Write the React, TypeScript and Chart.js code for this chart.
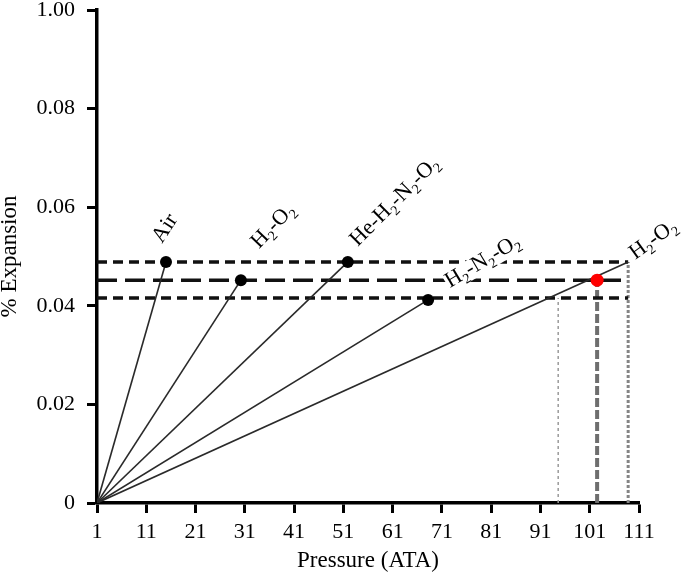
import React, { useEffect, useRef } from "react";
import { Chart, registerables } from "chart.js";
Chart.register(...registerables);

// ---- data ----
const xTickValues = [1, 11, 21, 31, 41, 51, 61, 71, 81, 91, 101, 111];
const yTickValues = [0, 0.02, 0.04, 0.06, 0.08, 0.1];
const yTickLabels = ["0", "0.02", "0.04", "0.06", "0.08", "1.00"];

const originPressure = 1;
const originExpansion = 0;

const gasLabels = ["Air", "H_2-O_2", "He-H_2-N_2-O_2", "H_2-N_2-O_2", "H_2-O_2"];
const gasPressure = [15, 30.2, 51.9, 68.2, 108.8];
const gasExpansion = [0.0489, 0.0452, 0.0489, 0.0412, 0.0489];
const gasMarker = [true, true, true, true, false];

const refLevels = [0.0489, 0.0452, 0.0416];
const refLevelEnd = 108.8;
const refPressures = [94.6, 102.5, 108.8];
const refPressureTops = [0.0416, 0.0452, 0.0489];

const highlightPressure = [102.5];
const highlightExpansion = [0.0452];

// ---- styles ----
const FONT = "'Liberation Serif', 'Times New Roman', serif";
const MAIN = 22;
const SUB = 14;
const levelDashes = [[10, 6], [20, 8], [10, 6]];
const vStyles = [
  { color: "#9a9a9a", width: 1.5, dash: [3, 3] },
  { color: "#6e6e6e", width: 4, dash: [9, 3] },
  { color: "#858585", width: 3, dash: [3, 2] },
];
const labelStyle = [
  { dx: -4, dy: -18, angle: -57 },
  { dx: 18, dy: -31, angle: -46 },
  { dx: 10, dy: -15, angle: -45 },
  { dx: 22, dy: -12, angle: -31 },
  { dx: 7, dy: -2, angle: -36 },
];

function parseRich(text: string) {
  const segs: { t: string; sub: boolean }[] = [];
  let cur = "";
  for (let i = 0; i < text.length; i++) {
    if (text[i] === "_" && i + 1 < text.length) {
      if (cur) segs.push({ t: cur, sub: false });
      cur = "";
      segs.push({ t: text[i + 1], sub: true });
      i++;
    } else cur += text[i];
  }
  if (cur) segs.push({ t: cur, sub: false });
  return segs;
}

const labelPlugin = {
  id: "gasLabels",
  afterDatasetsDraw(chart: any) {
    const ctx = chart.ctx;
    const xs = chart.scales.x;
    const ys = chart.scales.y;
    gasLabels.forEach((lab, i) => {
      const st = labelStyle[i];
      const px = xs.getPixelForValue(gasPressure[i]) + st.dx;
      const py = ys.getPixelForValue(gasExpansion[i]) + st.dy;
      const segs = parseRich(lab);
      ctx.save();
      ctx.translate(px, py);
      ctx.rotate((st.angle * Math.PI) / 180);
      let w = 0;
      segs.forEach((s) => {
        ctx.font = `${s.sub ? SUB : MAIN}px ${FONT}`;
        w += ctx.measureText(s.t).width;
      });
      ctx.fillStyle = "#ffffff";
      ctx.fillRect(-1, -15, w + 2, 20);
      ctx.fillStyle = "#000000";
      ctx.textBaseline = "alphabetic";
      ctx.textAlign = "left";
      let x = 0;
      segs.forEach((s) => {
        ctx.font = `${s.sub ? SUB : MAIN}px ${FONT}`;
        ctx.fillText(s.t, x, s.sub ? 5 : 0);
        x += ctx.measureText(s.t).width;
      });
      ctx.restore();
    });
  },
};

export default function App() {
  const ref = useRef<HTMLCanvasElement>(null);
  useEffect(() => {
    if (!ref.current) return;
    const datasets: any[] = [];
    refLevels.forEach((lv, i) => {
      datasets.push({
        data: [
          { x: originPressure, y: lv },
          { x: refLevelEnd, y: lv },
        ],
        borderColor: "#111111",
        borderWidth: 3.5,
        borderDash: levelDashes[i],
        pointRadius: 0,
        order: 5,
      });
    });
    refPressures.forEach((p, i) => {
      datasets.push({
        data: [
          { x: p, y: originExpansion },
          { x: p, y: refPressureTops[i] },
        ],
        borderColor: vStyles[i].color,
        borderWidth: vStyles[i].width,
        borderDash: vStyles[i].dash,
        pointRadius: 0,
        order: 6,
      });
    });
    gasLabels.forEach((_, i) => {
      datasets.push({
        data: [
          { x: originPressure, y: originExpansion },
          { x: gasPressure[i], y: gasExpansion[i] },
        ],
        borderColor: "#2a2a2a",
        borderWidth: 1.6,
        pointRadius: [0, gasMarker[i] ? 6 : 0],
        pointBackgroundColor: "#000000",
        pointBorderWidth: 0,
        order: 2,
      });
    });
    datasets.push({
      data: highlightPressure.map((p, i) => ({ x: p, y: highlightExpansion[i] })),
      showLine: false,
      pointRadius: 6.5,
      pointBackgroundColor: "#ff0000",
      pointBorderWidth: 0,
      order: 1,
    });

    const tickFont = { family: FONT, size: 22, lineHeight: 1.2 };
    const titleFont = { family: FONT, size: 23, lineHeight: 1.2 };
    const chart = new Chart(ref.current, {
      type: "line",
      data: { datasets },
      plugins: [labelPlugin],
      options: {
        animation: false,
        responsive: false,
        devicePixelRatio: 1,
        parsing: false as any,
        layout: { padding: { top: 10, right: 50, left: 0, bottom: 0 } },
        plugins: { legend: { display: false }, tooltip: { enabled: false } },
        scales: {
          x: {
            type: "linear",
            min: 1,
            max: 111,
            afterBuildTicks: (s: any) => {
              s.ticks = xTickValues.map((v) => ({ value: v }));
            },
            afterFit: (s: any) => {
              s.height = 71;
              s.paddingLeft = 0;
              s.paddingRight = 0;
            },
            ticks: {
              color: "#000",
              font: tickFont,
              padding: 6,
              maxRotation: 0,
              autoSkip: false,
              callback: (v: any) => String(v),
            },
            grid: {
              drawOnChartArea: false,
              drawTicks: true,
              tickLength: 10,
              tickColor: "#000",
              tickWidth: 3,
            },
            border: { display: true, color: "#000", width: 3.5 },
            title: {
              display: true,
              text: "Pressure (ATA)",
              color: "#000",
              font: titleFont,
              padding: { top: 0, bottom: -1 },
            },
          },
          y: {
            type: "linear",
            min: 0,
            max: 0.1,
            afterBuildTicks: (s: any) => {
              s.ticks = yTickValues.map((v) => ({ value: v }));
            },
            afterFit: (s: any) => {
              s.width = 97;
              s.paddingTop = 0;
              s.paddingBottom = 0;
            },
            ticks: {
              color: "#000",
              font: tickFont,
              padding: 12,
              autoSkip: false,
              callback: (_v: any, i: number) => yTickLabels[i],
            },
            grid: {
              drawOnChartArea: false,
              drawTicks: true,
              tickLength: 10,
              tickColor: "#000",
              tickWidth: 3,
            },
            border: { display: true, color: "#000", width: 3.5 },
            title: {
              display: true,
              text: "% Expansion",
              color: "#000",
              font: titleFont,
              padding: { top: -4, bottom: 0 },
            },
          },
        },
      } as any,
    });
    return () => chart.destroy();
  }, []);
  return (
    <div style={{ position: "absolute", left: 0, top: 0, width: 689, height: 574, background: "#fff" }}>
      <canvas ref={ref} width={689} height={574} style={{ width: 689, height: 574 }} />
    </div>
  );
}
